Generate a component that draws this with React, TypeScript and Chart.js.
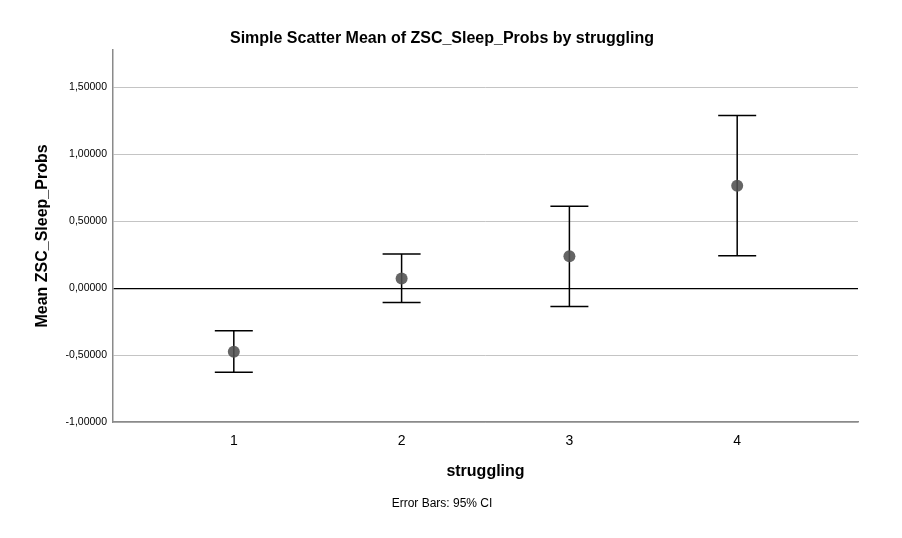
import React, { useEffect, useRef } from "react";
import { Chart, registerables } from "chart.js";

Chart.register(...registerables);

const categories = ["1", "2", "3", "4"];
const means = [-0.475, 0.072, 0.239, 0.765];
const ciLower = [-0.629, -0.107, -0.136, 0.243];
const ciUpper = [-0.319, 0.256, 0.612, 1.291];
const yTicks = [-1, -0.5, 0, 0.5, 1, 1.5];

const FONT = '"Liberation Sans", Arial, sans-serif';

const errorBarPlugin = {
  id: "errorBars",
  beforeDatasetsDraw(chart: any) {
    const { ctx, scales } = chart;
    const xs = scales.x;
    const ys = scales.y;
    ctx.save();
    ctx.strokeStyle = "#000";
    ctx.lineWidth = 1.5;
    categories.forEach((_, i) => {
      const x = xs.getPixelForValue(i + 1);
      const yTop = ys.getPixelForValue(ciUpper[i]);
      const yBot = ys.getPixelForValue(ciLower[i]);
      const cap = 19;
      ctx.beginPath();
      ctx.moveTo(x, yTop);
      ctx.lineTo(x, yBot);
      ctx.moveTo(x - cap, yTop);
      ctx.lineTo(x + cap, yTop);
      ctx.moveTo(x - cap, yBot);
      ctx.lineTo(x + cap, yBot);
      ctx.stroke();
    });
    ctx.restore();
  },
};

export default function App() {
  const canvasRef = useRef<HTMLCanvasElement | null>(null);

  useEffect(() => {
    if (!canvasRef.current) return;
    Chart.defaults.font.family = FONT;
    Chart.defaults.color = "#000";
    const chart = new Chart(canvasRef.current, {
      type: "scatter",
      data: {
        datasets: [
          {
            data: means.map((m, i) => ({ x: i + 1, y: m })),
            backgroundColor: "rgba(80,80,80,0.88)",
            borderColor: "rgba(80,80,80,0.88)",
            pointRadius: 6,
            pointBorderWidth: 0,
          },
        ],
      },
      options: {
        responsive: false,
        animation: false,
        events: [],
        layout: { padding: { left: 26, right: 44, top: 0, bottom: 0 } },
        plugins: {
          legend: { display: false },
          tooltip: { enabled: false },
          title: {
            display: true,
            text: "Simple Scatter Mean of ZSC_Sleep_Probs by struggling",
            color: "#000",
            font: { size: 16, weight: "bold", family: FONT },
            padding: { top: 29.4, bottom: 1.4 },
          },
          subtitle: {
            display: true,
            position: "bottom",
            text: "Error Bars: 95% CI",
            color: "#000",
            font: { size: 12, family: FONT },
            padding: { top: 2, bottom: 26.8 },
          },
        },
        scales: {
          x: {
            type: "linear",
            min: 0.28,
            max: 4.72,
            afterBuildTicks: (scale: any) => {
              scale.ticks = categories.map((_, i) => ({ value: i + 1 }));
            },
            afterFit: (scale: any) => {
              scale.height = 72.8;
            },
            grid: { display: false, drawTicks: false },
            border: { display: true, color: "#8a8a8a", width: 1.5 },
            ticks: {
              padding: 11,
              color: "#000",
              font: { size: 14, family: FONT },
              callback: (v: any) => categories[Number(v) - 1] ?? "",
            },
            title: {
              display: true,
              text: "struggling",
              color: "#000",
              font: { size: 16, weight: "bold", family: FONT },
              padding: { top: 0, bottom: 13.2 },
            },
          },
          y: {
            type: "linear",
            min: -1,
            max: 1.78,
            afterBuildTicks: (scale: any) => {
              scale.ticks = yTicks.map((v) => ({ value: v }));
            },
            afterFit: (scale: any) => {
              scale.width = 87;
            },
            grid: {
              drawTicks: false,
              color: (ctx: any) =>
                ctx.tick && ctx.tick.value === 0 ? "#000" : "#c4c4c4",
              lineWidth: (ctx: any) => (ctx.tick && ctx.tick.value === 0 ? 1.2 : 1),
            },
            border: { display: true, color: "#8a8a8a", width: 1.5 },
            ticks: {
              padding: 6,
              color: "#000",
              font: { size: 10.5, family: FONT },
              callback: (v: any) => Number(v).toFixed(5).replace(".", ","),
            },
            title: {
              display: true,
              text: "Mean ZSC_Sleep_Probs",
              color: "#000",
              font: { size: 16, weight: "bold", family: FONT },
              padding: { top: 7.4, bottom: 0 },
            },
          },
        },
      },
      plugins: [errorBarPlugin],
    });
    return () => chart.destroy();
  }, []);

  return (
    <div style={{ position: "absolute", left: 0, top: 0, width: 902, height: 538, background: "#fff" }}>
      <canvas ref={canvasRef} width={902} height={538} style={{ display: "block" }} />
    </div>
  );
}
